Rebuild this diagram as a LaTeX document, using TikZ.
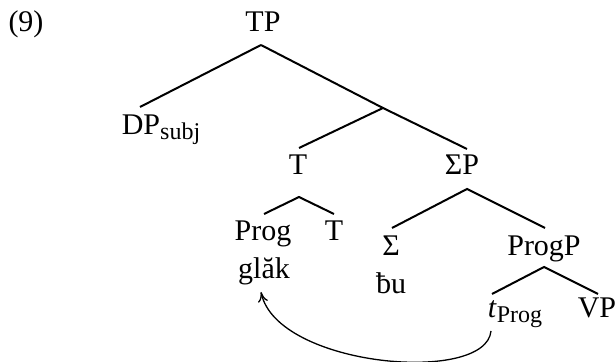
\documentclass[tikz,border=0pt]{standalone}
\usepackage{fontspec}
\setmainfont{Liberation Serif}
\usetikzlibrary{arrows.meta}
\newcommand\lsub[1]{\raisebox{-2.5pt}{\fontsize{12}{14}\selectfont #1}}
\begin{document}
\begin{tikzpicture}[x=0.5pt,y=-0.5pt,
  lbl/.style={inner sep=0pt,anchor=base,font=\fontsize{15}{18}\selectfont},
  branch/.style={line width=1pt},
  mv/.style={line width=0.65pt,-{To[length=5pt,width=5pt]}}]
\useasboundingbox (0,0) rectangle (616,362);
\node[lbl] (ex) at (26,32) {(9)};
\node[lbl] (TP) at (263,32) {TP};
\node[lbl] (DP) at (161,135) {DP\lsub{subj}};
\node[lbl] (T1) at (298,175) {T};
\node[lbl] (SP) at (462,175) {ΣP};
\node[lbl] (Prog) at (263,241) {Prog};
\node[lbl] (T2) at (334,241) {T};
\node[lbl] (glak) at (264,279) {glăk};
\node[lbl] (Sig) at (391,256) {Σ};
\node[lbl] (bu) at (391,294) {ƀu};
\node[lbl] (ProgP) at (544,256) {ProgP};
\node[lbl] (tP) at (515,318) {\textit{t}\lsub{Prog}};
\node[lbl] (VP) at (597,318) {VP};
% branch points
\coordinate (TPb) at (261,45);
\coordinate (DPt) at (140,107);
\coordinate (Xn) at (383,108);
\coordinate (T1t) at (299,148);
\coordinate (SPt) at (467,149);
\coordinate (T1b) at (299,197);
\coordinate (Progt) at (264,214);
\coordinate (T2t) at (334,214);
\coordinate (SPb) at (467,189);
\coordinate (Sigt) at (392,228);
\coordinate (ProgPt) at (545,228);
\coordinate (ProgPb) at (544,267);
\coordinate (tPt) at (492,294);
\coordinate (VPt) at (598,294);
\coordinate (mvs) at (491,331);
\coordinate (mve) at (261,292);
\draw[branch] (TPb) -- (DPt);
\draw[branch] (TPb) -- (Xn) -- (SPt);
\draw[branch] (Xn) -- (T1t);
\draw[branch] (Progt) -- (T1b) -- (T2t);
\draw[branch] (Sigt) -- (SPb) -- (ProgPt);
\draw[branch] (tPt) -- (ProgPb) -- (VPt);
\draw[mv] (mvs) .. controls (486,385) and (277,367) .. (mve);
\end{tikzpicture}
\end{document}
